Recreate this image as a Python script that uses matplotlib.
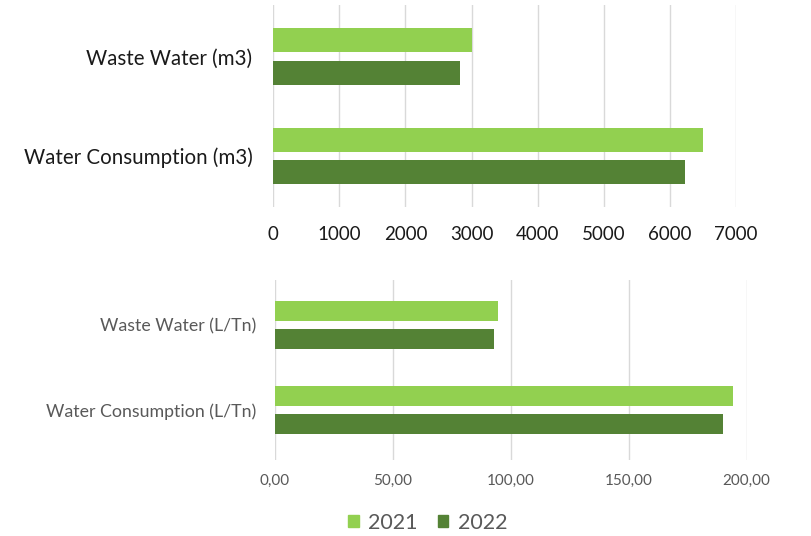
import matplotlib.pyplot as plt
from matplotlib.patches import Patch

plt.rcParams['font.family'] = ['Lato', 'DejaVu Sans']

years = ["2021", "2022"]
colors = ["#92D050", "#548235"]

cats_m3 = ["Water Consumption (m3)", "Waste Water (m3)"]
m3_2021 = [6500, 3000]
m3_2022 = [6225, 2825]

cats_ltn = ["Water Consumption (L/Tn)", "Waste Water (L/Tn)"]
ltn_2021 = [194.0, 94.5]
ltn_2022 = [189.8, 92.9]

fig = plt.figure(figsize=(8.12, 5.36), dpi=100)

ax1 = fig.add_axes([273.3 / 812, 1 - 207 / 536, (736 - 273.3) / 812, 202 / 536])
ax2 = fig.add_axes([274.7 / 812, 1 - 460 / 536, (746.7 - 274.7) / 812, 180 / 536])

h = 0.24
off = 0.165


def draw(ax, cats, v1, v2, xmax, step, fmt, fs, yfs, tcol, pad, ypad, ylim):
    pos = list(range(len(cats)))
    ax.barh([p + off for p in pos], v1, height=h, color=colors[0], zorder=2)
    ax.barh([p - off for p in pos], v2, height=h, color=colors[1], zorder=2)
    ax.set_xlim(0, xmax)
    ax.set_ylim(*ylim)
    ticks = list(range(0, xmax + 1, step))
    ax.set_xticks(ticks, [fmt(t) for t in ticks])
    ax.set_yticks(pos, cats)
    ax.grid(axis='x', color='#d9d9d9', lw=1, zorder=0)
    for s in ax.spines.values():
        s.set_visible(False)
    ax.tick_params(length=0, labelcolor=tcol)
    ax.tick_params(axis='x', pad=pad, labelsize=fs)
    ax.tick_params(axis='y', pad=ypad, labelsize=yfs)


draw(ax1, cats_m3, m3_2021, m3_2022, 7000, 1000, lambda t: str(t), 13.5, 14.8, '#1a1a1a', 14, 15,
     (-0.513, 1.518))
draw(ax2, cats_ltn, ltn_2021, ltn_2022, 200, 50, lambda t: f"{t},00", 11, 12.8, '#595959', 10, 13,
     (-0.588, 1.53))

handles = [Patch(color=c, label=y) for c, y in zip(colors, years)]
fig.legend(handles=handles, loc='center', bbox_to_anchor=(428 / 812, 1 - 523 / 536), ncol=2,
           frameon=False, fontsize=15.5, labelcolor='#595959', handlelength=0.47, handleheight=0.47,
           handletextpad=0.46, columnspacing=0.93)

fig.savefig("out.png", dpi=100)
